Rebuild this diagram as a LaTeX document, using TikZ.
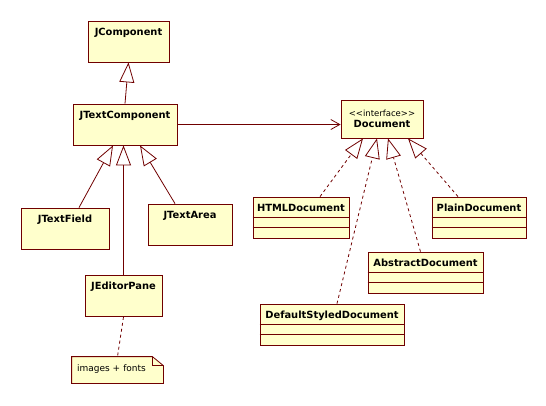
\documentclass[tikz,border=0pt]{standalone}
\usepackage{fontspec}
\setmainfont{DejaVu Sans}
\usetikzlibrary{arrows.meta}
\definecolor{umlline}{RGB}{112,0,0}
\definecolor{umlfill}{RGB}{255,255,204}
\newcommand{\slots}[1]{%
	\draw[umlline] ([yshift=-21pt]#1.north west) -- ([yshift=-21pt]#1.north east);
	\draw[umlline] ([yshift=-31pt]#1.north west) -- ([yshift=-31pt]#1.north east);}
\begin{document}
\begin{tikzpicture}[x=1pt, y=-1pt, line width=0.8pt,
	cls/.style={draw=umlline, fill=umlfill, inner sep=0pt, font=\fontsize{9.9}{12}\selectfont\bfseries,
		text height=14pt, text depth=27pt},
	iface/.style={draw=umlline, fill=umlfill, inner sep=0pt, align=center, minimum height=38pt, minimum width=82pt},
	gen/.style={draw=umlline, -{Triangle[open, length=20pt, width=15pt]}},
	real/.style={gen, dash pattern=on 3pt off 3pt},
	assoc/.style={draw=umlline, -{Straight Barb[length=9pt, width=10pt]}}]
	\useasboundingbox (0,0) rectangle (546,405);
	
	\node[cls, minimum width=81pt] (jcomp) at (128.5,41.5) {JComponent};
	\node[cls, minimum width=104pt] (jtc) at (125,124.5) {JTextComponent};
	\node[cls, minimum width=88pt] (jtf) at (65,228.5) {JTextField};
	\node[cls, minimum width=84pt] (jta) at (190,224.5) {JTextArea};
	\node[cls, minimum width=77pt] (jep) at (123.5,296) {JEditorPane};
	
	% note
	\node[inner sep=0pt, text width=81pt, inner xsep=5pt, text height=14pt, text depth=12pt] (note) at (117.5,370) {};
	\filldraw[draw=umlline, fill=umlfill] (note.north west) -- ([xshift=-11pt]note.north east)
		-- ([yshift=-9pt]note.north east) -- (note.south east) -- (note.south west) -- cycle;
	\draw[umlline] ([xshift=-11pt]note.north east) -- ([xshift=-11pt,yshift=-9pt]note.north east)
		-- ([yshift=-9pt]note.north east);
	\node[inner sep=0pt, text width=81pt, inner xsep=5pt, text height=14pt, text depth=12pt,
		font=\fontsize{9}{10}\selectfont] (notetext) at (note) {images + fonts};
	
	\node[iface] (doc) at (382,119) {{\fontsize{8.5}{10}\selectfont <{}<interface>{}>}\\[-1pt]
		{\fontsize{9.9}{12}\selectfont\bfseries Document}};
	
	\node[cls, minimum width=96pt] (html) at (301,217.5) {HTMLDocument};
	\node[cls, minimum width=94pt] (plain) at (479,217.5) {PlainDocument};
	\node[cls, minimum width=115pt] (abs) at (425.5,272.5) {AbstractDocument};
	\node[cls, minimum width=144pt] (dsd) at (332,324.5) {DefaultStyledDocument};
	\slots{html} \slots{plain} \slots{abs} \slots{dsd}
	
	\draw[gen] (jtc.north) -- (jcomp.south);
	\draw[gen] ([xshift=14pt]jtf.north) -- ([xshift=-12pt]jtc.south);
	\draw[gen] (jep.north) -- (jep.north |- jtc.south);
	\draw[gen] ([xshift=-15pt]jta.north) -- ([xshift=15pt]jtc.south);
	\draw[umlline, dash pattern=on 3pt off 3pt] (jep.south) -- (note.north);
	
	\draw[assoc] (jtc.east) -- (jtc.east -| doc.west);
	
	\draw[real] ([xshift=19pt]html.north) -- ([xshift=-19pt]doc.south);
	\draw[real] ([xshift=5pt]dsd.north) -- ([xshift=-5pt]doc.south);
	\draw[real] ([xshift=-5pt]abs.north) -- ([xshift=6pt]doc.south);
	\draw[real] ([xshift=-21pt]plain.north) -- ([xshift=26pt]doc.south);
\end{tikzpicture}
\end{document}
